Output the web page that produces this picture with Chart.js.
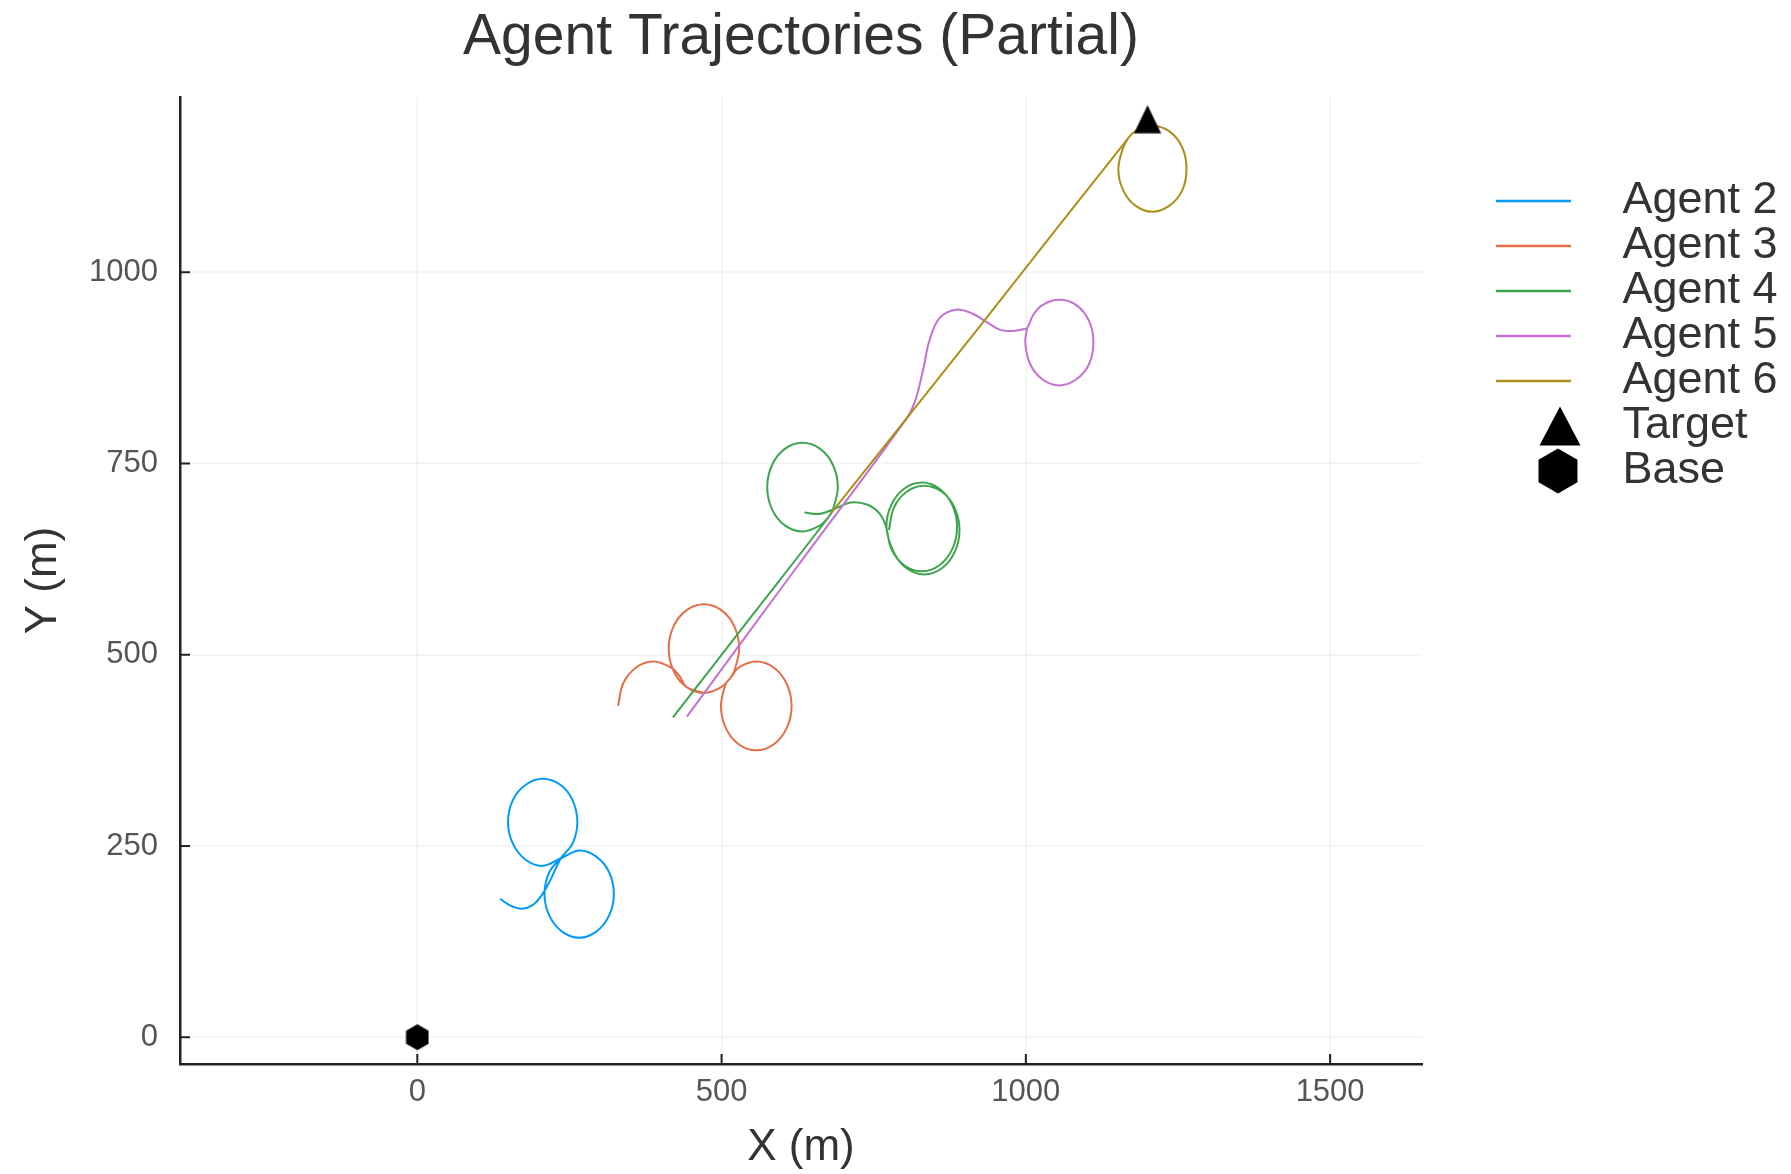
<!DOCTYPE html>
<html>
<head>
<meta charset="utf-8">
<title>Agent Trajectories (Partial)</title>
<script src="https://cdn.jsdelivr.net/npm/chart.js@4.4.1/dist/chart.umd.min.js"></script>
<style>
  html, body { margin: 0; padding: 0; background: #fff; }
  #wrap { width: 1791px; height: 1174px; position: relative; }
</style>
</head>
<body>
<div id="wrap"><canvas id="chart"></canvas></div>
<script>
// Axis ticks
const xTicks = [0, 500, 1000, 1500];
const yTicks = [0, 250, 500, 750, 1000];

// Series names and colours
const agentNames = ['Agent 2', 'Agent 3', 'Agent 4', 'Agent 5', 'Agent 6'];
const agentColors = ['#009AFA', '#E36F47', '#3EA44E', '#C371D2', '#AC8E18'];

// Trajectories (metres)
const agent2X = [136, 153, 172, 190, 204, 219, 236, 255, 263, 255, 235, 206, 178, 157, 149, 157, 178, 206, 236,
  266, 294, 315, 323, 315, 294, 266, 238, 217, 209, 217, 238];
const agent2Y = [181, 172, 168, 173, 185, 206, 234, 253, 281, 310, 330, 338, 330, 310, 281, 253, 232, 224, 234,
  244, 236, 216, 187, 159, 138, 130, 138, 159, 187, 216, 236];

const agent3X = [330, 338, 359, 388, 417, 431, 442, 471, 500, 515, 528, 557, 586, 607, 615, 607, 586, 557, 528, 507, 499, 507, 515,
  521, 529, 521, 500, 471, 442, 421, 413, 421, 442, 471];
const agent3Y = [433, 462, 483, 491, 483, 472, 458, 450, 458, 470, 483, 491, 483, 462, 433, 404, 383, 375, 383, 404, 433, 462, 470,
  479, 508, 537, 558, 566, 558, 537, 508, 479, 458, 450];

const agent4X = [420, 548, 675, 683, 691, 683, 662, 633, 604, 583, 575, 583, 604, 633, 662, 675, null,
  636, 660, 684, 712, 740, 759, 770, 779, 800, 829, 858, 879, 887, 879, 858, 829, 800, 779, 771,
  783, 804, 833, 862, 883, 891, 883, 862, 833, 804, 783, 775];
const agent4Y = [418, 549, 679, 690, 719, 748, 769, 777, 769, 748, 719, 690, 669, 661, 669, 679, null,
  686, 684, 690, 699, 696, 685, 668, 638, 617, 609, 617, 638, 667, 696, 717, 725, 717, 696, 667,
  634, 613, 605, 613, 634, 663, 692, 713, 721, 713, 692, 663];

const agent5X = [443, 624, 805, 819, 831, 842, 858, 885, 912, 935, 957, 978, 993, 1002,
  1012, 1027, 1055, 1083, 1104, 1111, 1104, 1083, 1055, 1027, 1007, 999, 1002];
const agent5Y = [419, 615, 810, 834, 872, 912, 940, 951, 946, 935, 925, 923, 925, 927,
  944, 957, 964, 957, 936, 908, 880, 860, 852, 860, 880, 908, 927];

const agent6X = [680, 924, 1168, 1180, 1208, 1236, 1257, 1264, 1257, 1236, 1208, 1180, 1160, 1152, 1160, 1168];
const agent6Y = [685, 929, 1175, 1184, 1191, 1184, 1163, 1135, 1107, 1087, 1079, 1087, 1107, 1135, 1163, 1175];

const targetX = [1200];
const targetY = [1200];
const baseX = [0];
const baseY = [0];

const toPoints = (xs, ys) => xs.map((x, i) => ({ x: x, y: ys[i] }));

const agentData = [
  toPoints(agent2X, agent2Y),
  toPoints(agent3X, agent3Y),
  toPoints(agent4X, agent4Y),
  toPoints(agent5X, agent5Y),
  toPoints(agent6X, agent6Y),
];

/** Marker images */
function makeMark(w, h, draw) {
  const c = document.createElement('canvas');
  c.width = w;
  c.height = h;
  draw(c.getContext('2d'));
  return c;
}
function hexagon(g, cx, cy, r) {
  g.beginPath();
  for (let k = 0; k < 6; k++) {
    const a = Math.PI / 2 + k * Math.PI / 3;
    g.lineTo(cx + r * Math.cos(a), cy - r * Math.sin(a));
  }
  g.closePath();
  g.fillStyle = '#000';
  g.fill();
}
function triangle(g, cx, cy, w, h) {
  g.beginPath();
  g.moveTo(cx, cy - h / 2);
  g.lineTo(cx + w / 2, cy + h / 2);
  g.lineTo(cx - w / 2, cy + h / 2);
  g.closePath();
  g.fillStyle = '#000';
  g.fill();
}

const legendBox = 178;
const legendFontSize = 45;
const fontFamily = '"Liberation Sans", Arial, Helvetica, sans-serif';

const plotTriangle = makeMark(28, 29, (g) => triangle(g, 14, 14.5, 27, 28));
const plotHexagon = makeMark(24, 28, (g) => hexagon(g, 12, 14, 13));

const legendMarks = agentColors.map((col) => makeMark(legendBox, 8, (g) => {
  g.strokeStyle = col;
  g.lineWidth = 2.5;
  g.beginPath();
  g.moveTo(74, 4);
  g.lineTo(149, 4);
  g.stroke();
}));
legendMarks.push(makeMark(legendBox, 44, (g) => triangle(g, 138, 22, 41, 39)));
legendMarks.push(makeMark(legendBox, 48, (g) => hexagon(g, 136, 24, 22.5)));

/** Right padding so the plot area ends where the reference does */
const measure = document.createElement('canvas').getContext('2d');
measure.font = legendFontSize + 'px ' + fontFamily;
const legendNames = agentNames.concat(['Target', 'Base']);
const textW = Math.max(...legendNames.map((t) => measure.measureText(t).width));
const padRight = Math.max(0, 1791 - 1422 - (legendBox + legendFontSize / 2 + textW + 10));

/** Tick marks drawn inside the axes */
const innerTicks = {
  id: 'innerTicks',
  beforeDatasetsDraw(chart) {
    const { ctx, chartArea, scales } = chart;
    ctx.save();
    ctx.strokeStyle = '#222';
    ctx.lineWidth = 2;
    ctx.beginPath();
    xTicks.forEach((v) => {
      const px = scales.x.getPixelForValue(v);
      ctx.moveTo(px, chartArea.bottom);
      ctx.lineTo(px, chartArea.bottom - 10);
    });
    yTicks.forEach((v) => {
      const py = scales.y.getPixelForValue(v);
      ctx.moveTo(chartArea.left, py);
      ctx.lineTo(chartArea.left + 10, py);
    });
    ctx.stroke();
    ctx.restore();
  },
};

Chart.defaults.font.family = fontFamily;

const datasets = agentNames.map((name, i) => ({
  label: name,
  data: agentData[i],
  showLine: true,
  spanGaps: false,
  borderColor: agentColors[i],
  backgroundColor: agentColors[i],
  borderWidth: 2,
  pointRadius: 0,
  pointHoverRadius: 0,
  tension: 0.35,
  order: 6 - i,
}));
datasets.push({
  label: 'Target',
  data: toPoints(targetX, targetY),
  pointStyle: plotTriangle,
  pointRadius: 12,
  backgroundColor: '#000',
  order: 1,
});
datasets.push({
  label: 'Base',
  data: toPoints(baseX, baseY),
  pointStyle: plotHexagon,
  pointRadius: 12,
  backgroundColor: '#000',
  order: 0,
});

const gridStyle = { color: 'rgba(0,0,0,0.04)', lineWidth: 2, drawTicks: false };
const borderStyle = { display: true, color: '#222', width: 2.5 };

new Chart(document.getElementById('chart').getContext('2d'), {
  type: 'scatter',
  data: { datasets },
  plugins: [innerTicks],
  options: {
    responsive: true,
    maintainAspectRatio: false,
    animation: false,
    devicePixelRatio: 1,
    layout: { padding: { left: 0, top: 0, bottom: 0, right: padRight } },
    scales: {
      x: {
        type: 'linear',
        min: -390,
        max: 1651,
        afterBuildTicks: (s) => { s.ticks = xTicks.map((v) => ({ value: v })); },
        afterFit: (s) => { s.height = 110; },
        grid: gridStyle,
        border: borderStyle,
        ticks: {
          color: '#555',
          font: { size: 31 },
          padding: 10,
          maxRotation: 0,
          autoSkip: false,
          callback: (v) => String(v),
        },
        title: {
          display: true,
          text: 'X (m)',
          color: '#333',
          font: { size: 44 },
          padding: { top: 0, bottom: 0 },
        },
      },
      y: {
        type: 'linear',
        min: -35,
        max: 1229,
        afterBuildTicks: (s) => { s.ticks = yTicks.map((v) => ({ value: v })); },
        afterFit: (s) => { s.width = 180; },
        grid: gridStyle,
        border: borderStyle,
        ticks: {
          color: '#555',
          font: { size: 31 },
          padding: 22,
          autoSkip: false,
          callback: (v) => String(v),
        },
        title: {
          display: true,
          text: 'Y (m)',
          color: '#333',
          font: { size: 44 },
          padding: { top: 17, bottom: 0 },
        },
      },
    },
    plugins: {
      tooltip: { enabled: false },
      title: {
        display: true,
        text: 'Agent Trajectories (Partial)',
        color: '#333',
        fullSize: false,
        font: { size: 57, weight: 'normal' },
        padding: { top: 4, bottom: 24.6 },
      },
      legend: {
        position: 'right',
        align: 'start',
        title: { display: true, text: '', font: { size: 10 }, padding: { top: 166.5, bottom: 0 } },
        labels: {
          usePointStyle: true,
          pointStyleWidth: legendBox,
          padding: 0,
          color: '#333',
          font: { size: legendFontSize },
          generateLabels: (chart) => chart.data.datasets.map((ds, i) => ({
            text: ds.label,
            pointStyle: legendMarks[i],
            fillStyle: '#000',
            strokeStyle: '#000',
            lineWidth: 0,
            hidden: false,
            datasetIndex: i,
            fontColor: '#333',
          })),
        },
      },
    },
  },
});
</script>
</body>
</html>
